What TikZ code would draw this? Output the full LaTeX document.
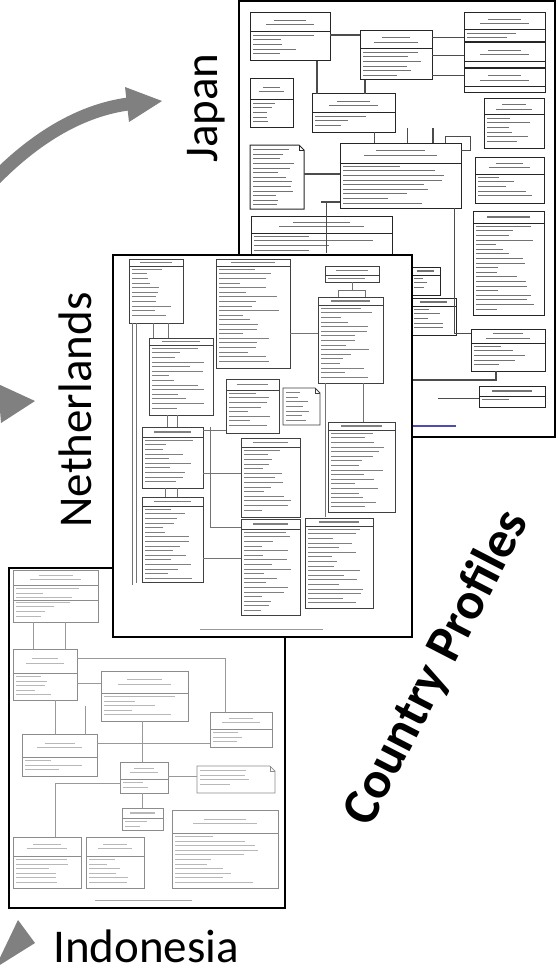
\documentclass[tikz,border=0pt]{standalone}
\usepackage{fontspec}
\setmainfont{Carlito}
\definecolor{arrowc}{RGB}{128,128,128}
\tikzset{
  pageframe/.style={draw=black, line width=2.6, fill=white},
  arrowfill/.style={fill=arrowc, draw=none},
  arrowshaft/.style={draw=arrowc, line width=13},
  title/.style={inner sep=0, font=\fontsize{47}{50}\selectfont},
  ub/.style={draw=black!75, line width=0.9},
  ut/.style={draw=black!45, line width=0.9},
  conn/.style={draw=black!70, line width=0.8},
}
\pgfmathsetseed{7}
\newcommand\ubox[5]{%
  \draw[ub] (#1,#2) rectangle (#3,#4);
  \draw[ub] (#1,#5) -- (#3,#5);
  \pgfmathsetmacro\cx{((#1)+(#3))/2}%
  \pgfmathsetmacro\bw{(#3)-(#1)}%
  \pgfmathsetmacro\hy{((#2)+(#5))/2}%
  \pgfmathsetmacro\hh{(#5)-(#2)}%
  \ifdim\hh pt>12pt
    \draw[ut] (\cx-0.2*\bw,\hy-2.2) -- (\cx+0.2*\bw,\hy-2.2);
    \draw[ut,line width=1.2] (\cx-0.3*\bw,\hy+2.2) -- (\cx+0.3*\bw,\hy+2.2);
  \else
    \draw[ut,line width=1.1] (\cx-0.3*\bw,\hy) -- (\cx+0.3*\bw,\hy);
  \fi
  \pgfmathtruncatemacro\nl{((#4)-(#5)-2)/4.6}%
  \ifnum\nl>0
  \foreach \i in {1,...,\nl}{%
    \pgfmathsetmacro\ly{(#5)+4.6*\i-1.3}%
    \pgfmathsetmacro\ll{(0.3+0.6*rnd)*(\bw-6)}%
    \draw[ut] ({#1+3},\ly) -- ++(\ll,0);
  }\fi
}
\newcommand\unote[4]{%
  \draw[ub,fill=white] (#1,#2) -- ({#3-5},#2) -- (#3,{#2+5}) -- (#3,#4) -- (#1,#4) -- cycle;
  \draw[ub] ({#3-5},#2) -- ({#3-5},{#2+5}) -- (#3,{#2+5});
  \pgfmathsetmacro\bw{(#3)-(#1)}%
  \pgfmathtruncatemacro\nl{((#4)-(#2)-4)/4.6}%
  \ifnum\nl>0
  \foreach \i in {1,...,\nl}{%
    \pgfmathsetmacro\ly{(#2)+4.6*\i}%
    \pgfmathsetmacro\ll{(0.4+0.5*rnd)*(\bw-8)}%
    \draw[ut] ({#1+3},\ly) -- ++(\ll,0);
  }\fi
}
\begin{document}
\begin{tikzpicture}[x=1pt,y=-1pt]
\useasboundingbox[fill=white] (0,0) rectangle (557,971);

% ---------- arrows ----------
\coordinate (ja0) at (-20,195);
\coordinate (ja1) at (128,104);
\draw[arrowshaft] (ja0) .. controls (20,150) and (70,112) .. (ja1);
\fill[arrowfill] (125,87) -- (162,101) -- (129,122) -- cycle;
\fill[arrowfill] (-2,384) -- (35,401) -- (1,423) -- cycle;
\fill[arrowfill] (18,920) -- (35,943) -- (-5,968) -- cycle;

% ---------- titles ----------
\node[title, rotate=90, anchor=base] (jp) at (217,108) {Japan};
\node[title, rotate=90, anchor=base] (nl) at (91,410) {Netherlands};
\node[title, anchor=base west] (id) at (53,962) {Indonesia};
\node[inner sep=0, rotate=62.7,
      font=\bfseries\fontsize{52}{55}\selectfont] (cp) at (437,668) {Country Profiles};

% ---------- Japan page ----------
\fill[white] (239,1) rectangle (555,437);
\begin{scope}
\clip (239,1) rectangle (555,437);
\tikzset{ub/.style={draw=black!85, line width=1}, ut/.style={draw=black!55, line width=0.9}}
\ubox{250}{13}{330}{61}{32}
\ubox{360}{31}{432}{80}{49}
\ubox{464}{13}{545}{42}{30}
\ubox{464}{43}{545}{68}{62}
\ubox{464}{69}{545}{93}{87}
\ubox{250}{79}{293}{128}{100}
\ubox{312}{94}{395}{132}{113}
\ubox{484}{99}{544}{148}{115}
\unote{250}{145}{304}{209}
\ubox{340}{143}{461}{208}{163}
\ubox{475}{157}{544}{203}{174}
\ubox{251}{216}{392}{300}{233}
\ubox{473}{211}{544}{315}{223}
\ubox{411}{267}{440}{295}{275}
\ubox{411}{298}{456}{335}{306}
\ubox{471}{329}{545}{371}{343}
\ubox{479}{386}{545}{407}{396}
\draw[conn, line width=1.6] (330,35) -- (360,35);
\draw[conn, line width=1.3] (317,61) -- (317,94);
\draw[conn, line width=1.3] (365,80) -- (365,94);
\draw[conn] (432,37) -- (464,37);
\draw[conn] (432,55) -- (464,55);
\draw[conn] (432,75) -- (464,75);
\draw[conn, line width=1.5] (304,174) -- (340,174);
\draw[conn, line width=1.5] (321,202) -- (340,202);
\draw[conn] (326,203) -- (326,253);
\draw[conn] (374,132) -- (374,143);
\draw[conn] (407,128) -- (407,143);
\draw[conn, line width=1.4] (433,128) -- (433,143);
\draw[conn] (445,143) -- (445,136) -- (470,136) -- (470,150) -- (461,150);
\draw[conn] (454,208) -- (454,333) -- (471,333);
\draw[conn, line width=1.4] (496,371) -- (496,380) -- (411,380);
\draw[conn] (438,398) -- (479,398);
\draw[draw=blue!40!gray, line width=1.2] (411,426) -- (456,426);
\end{scope}
\draw[pageframe, fill=none] (239,1) rectangle (555,437);

% ---------- Indonesia page ----------
\fill[white] (9,568) rectangle (285,908);
\begin{scope}
\clip (9,568) rectangle (285,908);
\tikzset{ub/.style={draw=black!45, line width=0.7}, ut/.style={draw=black!28, line width=0.8}, conn/.style={draw=black!40, line width=0.7}}
\ubox{13}{570}{98}{622}{585}
\draw[ub] (13,600) -- (98,600);
\ubox{13}{649}{77}{700}{673}
\ubox{101}{671}{188}{721}{693}
\ubox{210}{712}{272}{747}{729}
\ubox{22}{734}{97}{776}{757}
\ubox{120}{762}{168}{793}{779}
\unote{197}{766}{275}{793}
\ubox{122}{808}{163}{830}{818}
\ubox{172}{810}{278}{888}{833}
\ubox{13}{837}{81}{888}{856}
\ubox{86}{837}{144}{888}{856}
\draw[conn] (33,622) -- (33,649);
\draw[conn] (65,622) -- (65,649);
\draw[conn] (77,658) -- (225,658) -- (225,712);
\draw[conn] (77,683) -- (101,683);
\draw[conn] (55,700) -- (55,734);
\draw[conn] (85,706) -- (85,734);
\draw[conn] (97,743) -- (210,743);
\draw[conn] (142,721) -- (142,762);
\draw[conn] (142,793) -- (142,808);
\draw[conn] (168,776) -- (197,776);
\draw[conn] (120,783) -- (55,783) -- (55,837);
\draw[draw=black!35, line width=1] (95,900) -- (192,900);
\end{scope}
\draw[pageframe, fill=none] (9,568) rectangle (285,908);

% ---------- Netherlands page ----------
\fill[white] (113,255) rectangle (412,637);
\begin{scope}
\clip (113,255) rectangle (412,637);
\tikzset{ub/.style={draw=black!75, line width=0.9}, ut/.style={draw=black!50, line width=0.9}, conn/.style={draw=black!55, line width=0.8}}
\ubox{129}{259}{183}{323}{266}
\ubox{216}{259}{290}{368}{266}
\ubox{325}{266}{379}{282}{275}
\ubox{318}{297}{383}{383}{305}
\ubox{149}{338}{213}{415}{345}
\ubox{226}{379}{279}{433}{390}
\unote{283}{388}{320}{425}
\ubox{142}{427}{203}{488}{437}
\ubox{241}{438}{300}{517}{447}
\ubox{328}{422}{395}{512}{430}
\ubox{142}{497}{203}{582}{506}
\ubox{241}{519}{300}{615}{529}
\ubox{305}{518}{373}{608}{526}
\draw[conn] (132,323) -- (132,585);
\draw[conn] (136,323) -- (136,583);
\draw[conn] (290,333) -- (318,333);
\draw[conn] (352,282) -- (352,290);
\draw[conn] (338,297) -- (338,290) -- (365,290) -- (365,297);
\draw[conn] (325,383) -- (325,517);
\draw[conn] (363,383) -- (363,422);
\draw[conn] (203,473) -- (241,473);
\draw[conn] (210,427) -- (210,527) -- (241,527);
\draw[conn] (203,558) -- (241,558);
\draw[conn] (203,430) -- (226,430);
\draw[conn] (153,323) -- (153,338);
\draw[conn] (168,323) -- (168,338);
\draw[conn] (167,415) -- (167,427);
\draw[conn] (177,415) -- (177,427);
\draw[conn] (165,488) -- (165,497);
\draw[conn] (177,488) -- (177,497);
\draw[draw=black!40, line width=1] (200,629) -- (323,629);
\end{scope}
\draw[pageframe, fill=none] (113,255) rectangle (412,637);
\end{tikzpicture}
\end{document}
